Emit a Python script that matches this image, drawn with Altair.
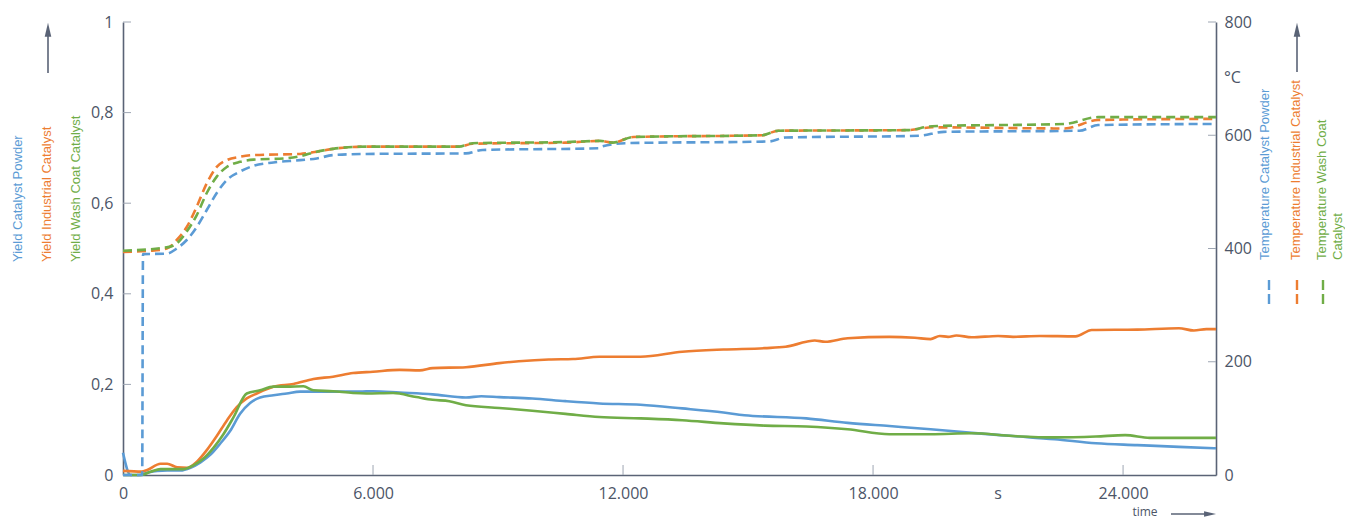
import altair as alt
import pandas as pd

# ---------------- data ----------------
series_names = ["Catalyst Powder", "Industrial Catalyst", "Wash Coat Catalyst"]
series_colors = ["#5b9bd5", "#ed7d31", "#70ad47"]

# Yield (left axis)
t_yield_powder = [0, 180, 380, 580, 820, 1060, 1380, 1620, 1860, 2100, 2330, 2570, 2810, 3050, 3290, 3610,
                  3930, 4250, 5040, 5680, 6000, 6640, 7430, 8230, 8600, 9030, 9820, 10620, 11430, 12420,
                  13420, 14410, 14910, 16400, 17390, 18390, 19380, 20370, 21360, 22360, 23350, 24340,
                  25340, 26230]
yield_powder = [0.049, 0.0, 0.0, 0.005, 0.009, 0.010, 0.010, 0.016, 0.028, 0.045, 0.069, 0.097, 0.135, 0.159,
                0.171, 0.176, 0.180, 0.184, 0.184, 0.184, 0.185, 0.182, 0.178, 0.171, 0.174, 0.172, 0.169,
                0.163, 0.158, 0.155, 0.147, 0.138, 0.132, 0.125, 0.115, 0.108, 0.101, 0.093, 0.086, 0.079,
                0.070, 0.066, 0.062, 0.059]

t_yield_industrial = [0, 450, 580, 900, 1060, 1300, 1540, 1780, 2020, 2250, 2490, 2730, 2970, 3210, 3610, 4090,
                      4570, 5040, 5520, 6000, 6640, 7120, 7430, 8230, 9030, 9500, 10220, 10800, 11430, 12420,
                      13420, 14410, 15400, 15900, 16400, 16600, 16850, 17390, 18390, 19000, 19380, 19600,
                      19800, 20000, 20370, 21000, 21360, 22000, 22860, 23250, 24340, 25340, 25700, 26000,
                      26230]
yield_industrial = [0.009, 0.0075, 0.011, 0.025, 0.025, 0.017, 0.016, 0.030, 0.056, 0.086, 0.120, 0.150, 0.169,
                    0.180, 0.195, 0.201, 0.212, 0.217, 0.225, 0.228, 0.232, 0.231, 0.236, 0.238, 0.247, 0.251,
                    0.255, 0.256, 0.261, 0.261, 0.272, 0.277, 0.280, 0.283, 0.294, 0.297, 0.294, 0.302, 0.305,
                    0.303, 0.300, 0.307, 0.305, 0.308, 0.304, 0.307, 0.305, 0.307, 0.306, 0.320, 0.321, 0.324,
                    0.319, 0.322, 0.322]

t_yield_washcoat = [0, 420, 660, 900, 1220, 1460, 1700, 1940, 2180, 2410, 2650, 2970, 3290, 3610, 3930, 4330,
                    4570, 5040, 5520, 5840, 6480, 7040, 7430, 7830, 8230, 9030, 9820, 10620, 11430, 12420,
                    13420, 14410, 15400, 16400, 17390, 18390, 19380, 20370, 21360, 22360, 23350, 24050,
                    24640, 26230]
yield_washcoat = [0.0, 0.0, 0.007, 0.013, 0.013, 0.013, 0.022, 0.037, 0.061, 0.090, 0.127, 0.180, 0.187, 0.195,
                  0.195, 0.196, 0.187, 0.185, 0.181, 0.180, 0.181, 0.172, 0.166, 0.163, 0.154, 0.148, 0.142,
                  0.135, 0.128, 0.125, 0.121, 0.114, 0.109, 0.107, 0.101, 0.090, 0.090, 0.092, 0.086, 0.083,
                  0.085, 0.088, 0.082, 0.082]

# Temperature (right axis, °C)
t_temp_powder = [0, 460, 480, 1050, 1290, 1530, 1770, 2010, 2250, 2490, 2810, 3130, 3610, 4250, 4650, 5040,
                 5840, 8230, 8630, 11420, 11450, 12050, 15500, 15900, 19100, 19700, 22950, 23400, 26230]
temp_powder = [0, 0, 390, 391, 400, 415, 438, 468, 498, 521, 536, 546, 552, 556, 559, 565, 567, 568, 574, 577,
               579, 586, 589, 596, 599, 606, 608, 618, 620]

t_temp_industrial = [0, 650, 1050, 1290, 1530, 1770, 2010, 2250, 2490, 2810, 3130, 4250, 4650, 5040, 5840, 8060,
                     8390, 10620, 11450, 11750, 12250, 15330, 15730, 18820, 19420, 22600, 23400, 26230]
temp_industrial = [394, 396, 400, 415, 438, 474, 515, 544, 556, 562, 565, 567, 571, 576, 580, 580, 585, 587,
                   590, 587, 597, 600, 608, 609, 614, 612, 627, 629]

t_temp_washcoat = [0, 1050, 1290, 1530, 1770, 2010, 2250, 2490, 2810, 3130, 3850, 4250, 4650, 5040, 5840, 8060,
                   8390, 10620, 11450, 11750, 12250, 15330, 15730, 18820, 19420, 22600, 23400, 26230]
temp_washcoat = [396, 402, 409, 430, 459, 498, 527, 544, 553, 557, 559, 563, 571, 576, 580, 580, 586, 588, 590,
                 587, 597, 600, 608, 609, 616, 620, 632, 632]

x_ticks = [0, 6000, 12000, 18000, 24000]
yield_ticks = [0, 0.2, 0.4, 0.6, 0.8, 1.0]
temp_ticks = [0, 200, 400, 600, 800]
x_max = 26230

yield_labels = ["Yield Catalyst Powder", "Yield Industrial Catalyst", "Yield Wash Coat Catalyst"]
temp_labels = ["Temperature Catalyst Powder", "Temperature Industrial Catalyst", "Temperature Wash Coat", "Catalyst"]
unit_x = "s"
unit_y = "°C"
time_label = "time"

# ---------------- build tables ----------------
def frame(t, v, name):
    return pd.DataFrame({"t": t, "v": v, "series": name})

yield_df = pd.concat([frame(t_yield_powder, yield_powder, series_names[0]),
                      frame(t_yield_industrial, yield_industrial, series_names[1]),
                      frame(t_yield_washcoat, yield_washcoat, series_names[2])])
temp_df = pd.concat([frame(t_temp_powder, temp_powder, series_names[0]),
                     frame(t_temp_industrial, temp_industrial, series_names[1]),
                     frame(t_temp_washcoat, temp_washcoat, series_names[2])])

W, H = 1093, 453
AXIS_C = "#5a6376"
LABEL_C = "#4c5567"
TICK_C = "#9ea6b3"
FONT = "Open Sans"

x_scale = alt.Scale(domain=[0, x_max], nice=False, zero=False)
x_axis = alt.Axis(values=x_ticks, title=None, ticks=False, grid=False, labelPadding=10,
                  labelExpr="replace(format(datum.value, ','), ',', '.')",
                  labelFlush=False, labelOverlap=False)
yl_scale = alt.Scale(domain=[0, 1], nice=False)
yl_axis = alt.Axis(values=yield_ticks, title=None, ticks=False, grid=False, labelPadding=10, orient="left",
                   labelExpr="replace(format(datum.value, '.1~f'), '.', ',')")
yr_scale = alt.Scale(domain=[0, 800], nice=False)
yr_axis = alt.Axis(values=temp_ticks, title=None, ticks=False, grid=False, labelPadding=8, orient="right")

color_scale = alt.Scale(domain=series_names, range=series_colors)

yield_lines = alt.Chart(yield_df).mark_line(strokeWidth=2.6, interpolate="monotone").encode(
    x=alt.X("t:Q", scale=x_scale, axis=x_axis),
    y=alt.Y("v:Q", scale=yl_scale, axis=yl_axis),
    color=alt.Color("series:N", scale=color_scale, legend=None),
    detail="series:N",
)
yield_tick_rules = alt.Chart(pd.DataFrame({"v": yield_ticks[1:]})).mark_rule(color=TICK_C, strokeWidth=1).encode(
    y=alt.Y("v:Q", scale=yl_scale, axis=yl_axis),
    x=alt.value(0), x2=alt.value(8),
)
yield_layer = alt.layer(yield_tick_rules, yield_lines)

temp_lines = alt.Chart(temp_df).mark_line(strokeWidth=2.6, strokeDash=[9, 5], interpolate="monotone").encode(
    x=alt.X("t:Q", scale=x_scale, axis=x_axis),
    y=alt.Y("v:Q", scale=yr_scale, axis=yr_axis),
    color=alt.Color("series:N", scale=color_scale, legend=None),
    detail="series:N",
)
temp_tick_rules = alt.Chart(pd.DataFrame({"v": temp_ticks[1:]})).mark_rule(color=TICK_C, strokeWidth=1).encode(
    y=alt.Y("v:Q", scale=yr_scale, axis=yr_axis),
    x=alt.value(W - 8), x2=alt.value(W),
)
temp_layer = alt.layer(temp_tick_rules, temp_lines)

x_tick_rules = alt.Chart(pd.DataFrame({"t": x_ticks[1:]})).mark_rule(color=TICK_C, strokeWidth=1).encode(
    x=alt.X("t:Q", scale=x_scale, axis=x_axis),
    y=alt.value(H - 10), y2=alt.value(H),
)
s_label = alt.Chart(pd.DataFrame({"s": [unit_x], "t": [21000]})).mark_text(
    font=FONT, fontSize=16, color=LABEL_C, baseline="top").encode(
    x=alt.X("t:Q", scale=x_scale, axis=x_axis), y=alt.value(H + 11), text="s:N")


def label(text, x, y, color, size=13, angle=0, align="center", baseline="middle", font="Liberation Sans"):
    return alt.Chart(pd.DataFrame({"s": [text]})).mark_text(
        angle=angle, align=align, baseline=baseline, color=color, fontSize=size, font=font
    ).encode(text="s:N", x=alt.value(x), y=alt.value(y))


def vrule(x, y1, y2, color, width=1.6, dash=None):
    kw = {"color": color, "strokeWidth": width}
    if dash:
        kw["strokeDash"] = dash
    return alt.Chart(pd.DataFrame({"a": [0]})).mark_rule(**kw).encode(
        x=alt.value(x), y=alt.value(y1), y2=alt.value(y2))


def hrule(x1, x2, y, color, width=1.6):
    return alt.Chart(pd.DataFrame({"a": [0]})).mark_rule(color=color, strokeWidth=width).encode(
        x=alt.value(x1), x2=alt.value(x2), y=alt.value(y))


def head(x, y, shape, size=270):
    return alt.Chart(pd.DataFrame({"a": [0]})).mark_point(
        shape=shape, filled=True, size=size, color=AXIS_C, opacity=1, strokeWidth=0).encode(
        x=alt.value(x), y=alt.value(y))

UP = "M0,-1L0.4,0.7L-0.4,0.7Z"
RIGHT = "M1,0L-0.7,0.4L-0.7,-0.4Z"

extras = [
    # left legend
    label(yield_labels[0], -105, 240, series_colors[0], angle=270, align="left"),
    label(yield_labels[1], -76, 240, series_colors[1], angle=270, align="left"),
    label(yield_labels[2], -47, 240, series_colors[2], angle=270, align="left"),
    vrule(-75, 51, 12, AXIS_C), head(-75, 9, UP),
    # right legend
    label(temp_labels[0], 1142, 238, series_colors[0], angle=270, align="left"),
    label(temp_labels[1], 1173, 238, series_colors[1], angle=270, align="left"),
    label(temp_labels[2], 1199, 238, series_colors[2], angle=270, align="left"),
    label(temp_labels[3], 1215, 238, series_colors[2], angle=270, align="left"),
    vrule(1146, 258, 283, series_colors[0], width=2.4, dash=[10, 4]),
    vrule(1174, 258, 283, series_colors[1], width=2.4, dash=[10, 4]),
    vrule(1200, 258, 283, series_colors[2], width=2.4, dash=[10, 4]),
    vrule(1174, 50, 12, AXIS_C), head(1174, 9, UP),
    label(unit_y, 1101, 56, LABEL_C, size=16, align="left", font=FONT),
    # bottom time arrow
    label(time_label, 1022, 490, LABEL_C, size=12, font=FONT),
    hrule(1048, 1084, 492, AXIS_C), head(1086, 492, RIGHT, size=200),
]

chart = alt.layer(
    alt.layer(yield_layer, temp_layer).resolve_scale(y="independent"),
    x_tick_rules, s_label, *extras,
).properties(
    width=W, height=H,
    autosize=alt.AutoSizeParams(type="none"),
    padding={"left": 115, "top": 14, "right": 129, "bottom": 47},
).configure_view(stroke=None).configure_axis(
    domainColor=AXIS_C, domainWidth=1.6, labelColor=LABEL_C, labelFont=FONT, labelFontSize=16,
)

chart.save("out.html", embed_options={"renderer": "svg", "actions": False})
